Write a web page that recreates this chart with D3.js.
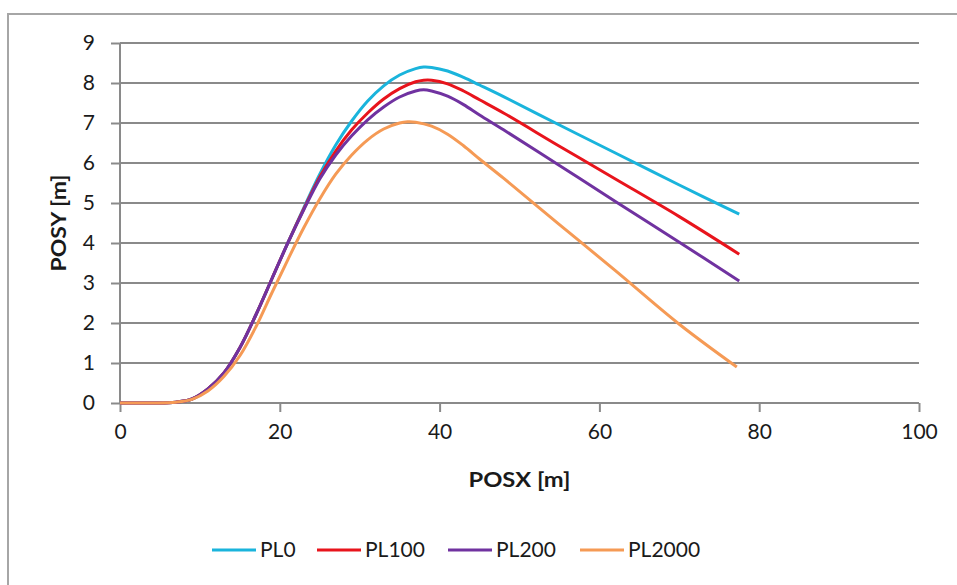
<!DOCTYPE html>
<html>
<head>
<meta charset="utf-8">
<script src="https://cdn.jsdelivr.net/npm/d3@7"></script>
<style>
  html, body { margin: 0; padding: 0; background: #fff; }
  svg { display: block; }
  text { font-family: Lato, "Open Sans", sans-serif; fill: #1a1a1a; }
</style>
</head>
<body>
<svg id="chart" width="957" height="585"></svg>
<script>
// ---- data ----
const seriesNames = ["PL0", "PL100", "PL200", "PL2000"];
const seriesColors = ["#1ab4dc", "#e8141c", "#7032a0", "#f59a55"];

const pl0X = [0, 4, 7, 9, 11, 13, 15, 17, 19, 21, 23, 25, 27, 29, 31, 33, 35, 37, 38, 39, 41, 43, 45, 48, 55, 62, 70, 77.5];
const pl0Y = [0, 0, 0.02, 0.1, 0.35, 0.75, 1.38, 2.2, 3.1, 4.0, 4.88, 5.72, 6.45, 7.05, 7.55, 7.93, 8.2, 8.36, 8.4, 8.39, 8.3, 8.14, 7.95, 7.66, 6.95, 6.25, 5.45, 4.72];

const pl100X = [0, 4, 7, 9, 11, 13, 15, 17, 19, 21, 23, 25, 27, 29, 31, 33, 35, 37, 38, 39, 41, 43, 45, 48, 55, 62, 70, 77.5];
const pl100Y = [0, 0, 0.02, 0.1, 0.35, 0.75, 1.38, 2.2, 3.1, 4.0, 4.85, 5.65, 6.3, 6.83, 7.25, 7.6, 7.86, 8.03, 8.07, 8.07, 7.98, 7.8, 7.58, 7.25, 6.42, 5.6, 4.66, 3.72];

const pl200X = [0, 4, 7, 9, 11, 13, 15, 17, 19, 21, 23, 25, 27, 29, 31, 33, 35, 37, 38, 39, 41, 43, 45, 48, 55, 62, 70, 77.5];
const pl200Y = [0, 0, 0.02, 0.1, 0.35, 0.75, 1.38, 2.2, 3.1, 4.0, 4.83, 5.6, 6.2, 6.68, 7.08, 7.4, 7.65, 7.8, 7.83, 7.8, 7.67, 7.46, 7.2, 6.83, 5.94, 5.04, 4.02, 3.05];

const pl2000X = [0, 4, 7, 9, 11, 13, 15, 17, 19, 21, 23, 25, 27, 29, 31, 33, 35, 36, 37, 39, 41, 43, 45, 48, 55, 62, 70, 77.2];
const pl2000Y = [0, 0, 0.02, 0.09, 0.3, 0.66, 1.18, 1.9, 2.75, 3.58, 4.38, 5.1, 5.72, 6.2, 6.58, 6.85, 7.0, 7.03, 7.02, 6.92, 6.72, 6.43, 6.1, 5.62, 4.46, 3.31, 1.97, 0.9];

const xTicks = [0, 20, 40, 60, 80, 100];
const yTicks = [0, 1, 2, 3, 4, 5, 6, 7, 8, 9];
const xTitle = "POSX [m]";
const yTitle = "POSY [m]";

const seriesX = [pl0X, pl100X, pl200X, pl2000X];
const seriesY = [pl0Y, pl100Y, pl200Y, pl2000Y];

// ---- layout ----
const svg = d3.select("#chart");
const W = 957, H = 585;
const plot = { left: 120, right: 919, top: 43, bottom: 403 };

// outer border
svg.append("rect")
  .attr("x", 8).attr("y", 14)
  .attr("width", W + 20).attr("height", H + 20)
  .attr("fill", "#fff").attr("stroke", "#a6a6a6").attr("stroke-width", 2);

const x = d3.scaleLinear().domain([0, 100]).range([plot.left, plot.right]);
const y = d3.scaleLinear().domain([0, 9]).range([plot.bottom, plot.top]);

// gridlines
svg.append("g")
  .selectAll("line")
  .data(yTicks.filter(d => d > 0))
  .join("line")
  .attr("x1", plot.left).attr("x2", plot.right)
  .attr("y1", d => y(d)).attr("y2", d => y(d))
  .attr("stroke", "#8a8a8a").attr("stroke-width", 2);

// y axis
const yAxis = svg.append("g")
  .attr("transform", `translate(${plot.left},0)`)
  .call(d3.axisLeft(y).tickValues(yTicks).tickSize(9).tickPadding(16).tickFormat(d3.format("d")));
yAxis.select(".domain").attr("stroke", "#8a8a8a").attr("stroke-width", 2).attr("d", `M0,${plot.top}V${plot.bottom}`);
yAxis.selectAll(".tick line").attr("stroke", "#8a8a8a").attr("stroke-width", 2);
yAxis.selectAll(".tick text").attr("font-size", 21).attr("fill", "#1a1a1a").attr("font-family", "Lato");

// x axis
const xAxis = svg.append("g")
  .attr("transform", `translate(0,${plot.bottom})`)
  .call(d3.axisBottom(x).tickValues(xTicks).tickSize(9).tickPadding(12).tickFormat(d3.format("d")));
xAxis.select(".domain").attr("stroke", "#8a8a8a").attr("stroke-width", 2).attr("d", `M${plot.left},0H${plot.right}`);
xAxis.selectAll(".tick line").attr("stroke", "#8a8a8a").attr("stroke-width", 2);
xAxis.selectAll(".tick text").attr("font-size", 21).attr("fill", "#1a1a1a").attr("font-family", "Lato");

// axis titles
svg.append("text")
  .attr("x", (plot.left + plot.right) / 2).attr("y", 487)
  .attr("text-anchor", "middle").attr("font-size", 20).attr("font-weight", "bold")
  .attr("textLength", 102).attr("lengthAdjust", "spacingAndGlyphs")
  .text(xTitle);
svg.append("text")
  .attr("transform", `translate(66,${(plot.top + plot.bottom) / 2}) rotate(-90)`)
  .attr("text-anchor", "middle").attr("font-size", 20).attr("font-weight", "bold")
  .attr("textLength", 97).attr("lengthAdjust", "spacingAndGlyphs")
  .text(yTitle);

// lines
const line = d3.line().x(d => x(d[0])).y(d => y(d[1])).curve(d3.curveCatmullRom.alpha(0.5));
seriesNames.forEach((name, i) => {
  const pts = seriesX[i].map((v, j) => [v, seriesY[i][j]]);
  svg.append("path")
    .datum(pts)
    .attr("d", line)
    .attr("fill", "none")
    .attr("stroke", seriesColors[i])
    .attr("stroke-width", 3)
    .attr("stroke-linejoin", "round");
});

// legend
const legendX = [212, 317, 448, 580];
const leg = svg.append("g");
seriesNames.forEach((name, i) => {
  const lx = legendX[i];
  leg.append("line")
    .attr("x1", lx).attr("x2", lx + 44)
    .attr("y1", 550).attr("y2", 550)
    .attr("stroke", seriesColors[i]).attr("stroke-width", 3);
  leg.append("text")
    .attr("x", lx + 48).attr("y", 557)
    .attr("font-size", 21)
    .text(name);
});
</script>
</body>
</html>
